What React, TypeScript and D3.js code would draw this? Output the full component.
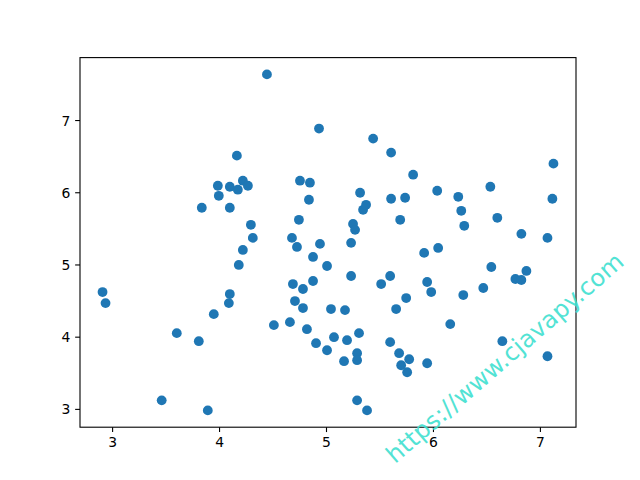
import React from "react";
import * as d3 from "d3";

const xs: number[] = [
  2.906, 2.934, 3.459, 3.6, 3.806, 3.89, 3.946, 3.834, 3.984, 3.993,
  4.096, 4.087, 4.096, 4.096, 4.162, 4.171, 4.218, 4.18, 4.218, 4.265,
  4.293, 4.311, 4.443, 4.508, 4.658, 4.677, 4.686, 4.705, 4.724, 4.742,
  4.752, 4.78, 4.78, 4.817, 4.836, 4.845, 4.874, 4.874, 4.902, 4.93,
  4.939, 5.005, 5.005, 5.042, 5.07, 5.164, 5.173, 5.192, 5.23, 5.23,
  5.248, 5.267, 5.286, 5.286, 5.286, 5.304, 5.314, 5.342, 5.37, 5.379,
  5.436, 5.511, 5.595, 5.595, 5.604, 5.604, 5.651, 5.679, 5.689, 5.698,
  5.735, 5.745, 5.754, 5.773, 5.81, 5.913, 5.941, 5.941, 5.979, 6.035,
  6.044, 6.157, 6.232, 6.26, 6.279, 6.288, 6.466, 6.532, 6.541, 6.597,
  6.644, 6.766, 6.822, 6.822, 6.869, 7.066, 7.066, 7.112, 7.122,
];

const ys: number[] = [
  4.625, 4.472, 3.125, 4.056, 3.944, 2.986, 4.319, 5.792, 6.097, 5.958,
  4.597, 4.472, 6.083, 5.792, 6.514, 6.042, 6.167, 5.0, 5.208, 6.097,
  5.556, 5.375, 7.639, 4.167, 4.208, 5.375, 4.736, 4.5, 5.25, 5.625,
  6.167, 4.667, 4.403, 4.111, 5.903, 6.139, 5.111, 4.778, 3.917, 6.889,
  5.292, 4.986, 3.819, 4.389, 4.0, 3.667, 4.375, 3.958, 5.306, 4.847,
  5.569, 5.486, 3.125, 3.778, 3.681, 4.056, 6.0, 5.764, 5.833, 2.986,
  6.75, 4.736, 4.847, 3.931, 6.556, 5.917, 4.389, 3.778, 5.625, 3.611,
  5.931, 4.542, 3.514, 3.694, 6.25, 5.167, 4.764, 3.639, 4.625, 6.028,
  5.236, 4.181, 5.944, 5.75, 4.583, 5.542, 4.681, 6.083, 4.972, 5.653,
  3.944, 4.806, 4.792, 5.431, 4.917, 5.375, 3.736, 5.917, 6.403,
];

const xTicks: number[] = [3, 4, 5, 6, 7];
const yTicks: number[] = [3, 4, 5, 6, 7];
const watermark = "https://www.cjavapy.com";

const W = 640;
const H = 480;
const L = 80;
const R = 576;
const T = 57.6;
const B = 427.2;

function padded(vals: number[]): [number, number] {
  const [lo, hi] = d3.extent(vals) as [number, number];
  const m = (hi - lo) * 0.05;
  return [lo - m, hi + m];
}

export default function App() {
  const x = d3.scaleLinear().domain(padded(xs)).range([L, R]);
  const y = d3.scaleLinear().domain(padded(ys)).range([B, T]);
  const font = "DejaVu Sans, sans-serif";
  const tick = 4.86;
  return (
    <svg
      width={W}
      height={H}
      style={{ position: "absolute", left: 0, top: 0, background: "#fff" }}
    >
      <rect x={0} y={0} width={W} height={H} fill="#fff" />
      {xs.map((v, i) => (
        <circle key={i} cx={x(v)} cy={y(ys[i])} r={4.9} fill="#1f77b4" />
      ))}
      <rect
        x={L}
        y={T}
        width={R - L}
        height={B - T}
        fill="none"
        stroke="#000"
        strokeWidth={1.1}
      />
      {xTicks.map((t) => (
        <g key={"x" + t}>
          <line x1={x(t)} x2={x(t)} y1={B} y2={B + tick} stroke="#000" strokeWidth={1.1} />
          <text
            x={x(t)}
            y={B + tick + 4.9}
            textAnchor="middle"
            dominantBaseline="hanging"
            fontFamily={font}
            fontSize={13.9}
            fill="#000"
          >
            {t}
          </text>
        </g>
      ))}
      {yTicks.map((t) => (
        <g key={"y" + t}>
          <line x1={L - tick} x2={L} y1={y(t)} y2={y(t)} stroke="#000" strokeWidth={1.1} />
          <text
            x={L - tick - 4.9}
            y={y(t)}
            textAnchor="end"
            dominantBaseline="central"
            fontFamily={font}
            fontSize={13.9}
            fill="#000"
          >
            {t}
          </text>
        </g>
      ))}
      <text
        x={505}
        y={358}
        transform="rotate(-41 505 358)"
        textAnchor="middle"
        dominantBaseline="central"
        fontFamily={font}
        fontSize={24}
        fill="#40e0d0"
        opacity={0.9}
        letterSpacing={0.3}
      >
        {watermark}
      </text>
    </svg>
  );
}
